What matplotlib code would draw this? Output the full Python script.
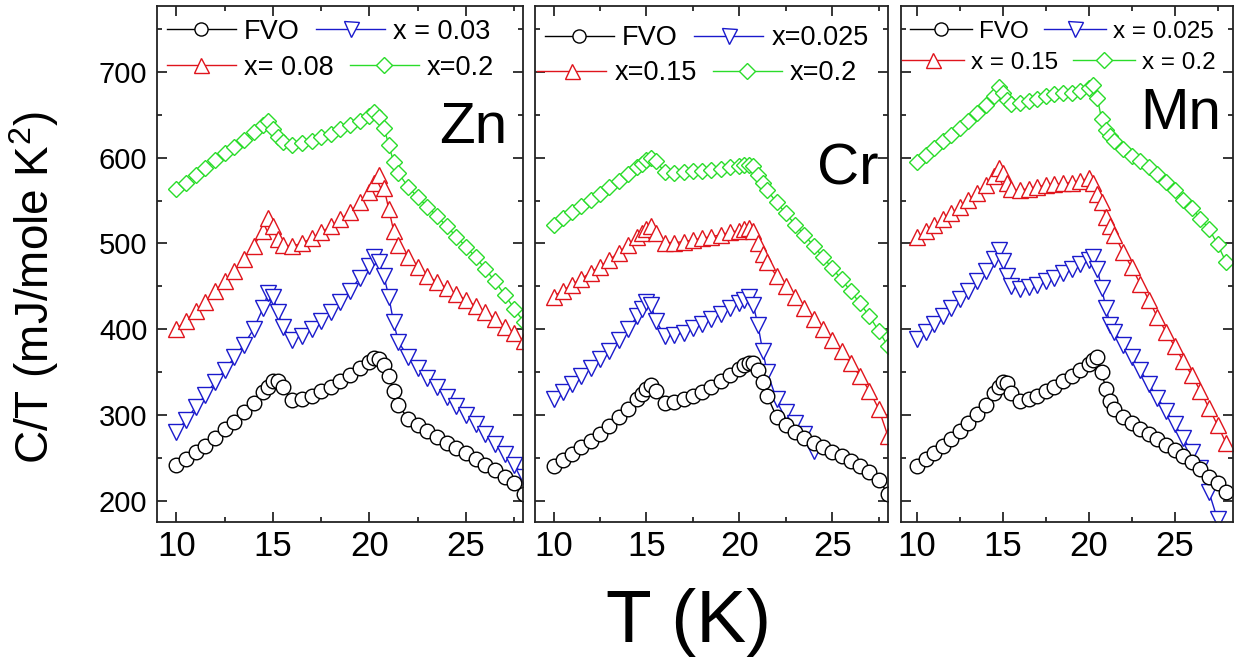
import numpy as np
import matplotlib
matplotlib.use('Agg')
import matplotlib.pyplot as plt
from matplotlib.ticker import MultipleLocator

plt.rcParams['font.family'] = ['Liberation Sans', 'DejaVu Sans']
plt.rcParams['mathtext.fontset'] = 'custom'
plt.rcParams['mathtext.rm'] = 'Liberation Sans'
plt.rcParams['mathtext.it'] = 'Liberation Sans:italic'

# temperature grid (K), denser around the two transitions
T = [10, 10.5, 11, 11.5, 12, 12.5, 13, 13.5, 14, 14.5, 14.75, 15, 15.25, 15.5,
     16, 16.5, 17, 17.5, 18, 18.5, 19, 19.5, 20, 20.25, 20.5, 20.75, 21, 21.25,
     21.5, 22, 22.5, 23, 23.5, 24, 24.5, 25, 25.5, 26, 26.5, 27, 27.5, 28]

# C/T (mJ/mole K^2) -- Zn doped
zn_fvo = [242, 249, 257, 264, 273, 283, 292, 303, 314, 327, 333, 339, 340, 332,
          317, 318, 322, 328, 333, 340, 347, 355, 362, 366, 365, 358, 345, 328,
          312, 295, 288, 281, 274, 267, 261, 255, 249, 242, 236, 228, 220, 208]
zn_x003 = [280, 294, 309, 323, 338, 352, 367, 382, 400, 425, 442, 438, 420, 403,
           387, 392, 400, 410, 420, 432, 445, 460, 474, 484, 478, 462, 438, 408,
           385, 368, 355, 343, 332, 321, 310, 300, 289, 278, 266, 254, 242, 228]
zn_x008 = [400, 410, 421, 432, 444, 456, 468, 482, 497, 515, 530, 520, 505, 498,
           497, 500, 506, 513, 520, 528, 537, 548, 560, 570, 580, 565, 540, 515,
           498, 484, 472, 462, 455, 448, 441, 434, 427, 420, 412, 403, 395, 386]
zn_x02 = [563, 571, 580, 588, 597, 605, 613, 621, 630, 638, 643, 634, 624, 618,
          615, 617, 620, 624, 628, 633, 638, 643, 649, 653, 648, 635, 615, 595,
          582, 566, 554, 543, 532, 520, 508, 496, 484, 470, 456, 440, 424, 408]

# Cr doped
cr_fvo = [240, 247, 254, 262, 270, 278, 287, 297, 307, 318, 324, 330, 335, 328,
          314, 315, 318, 322, 327, 333, 339, 346, 354, 358, 361, 360, 352, 338,
          322, 298, 288, 280, 273, 267, 262, 257, 252, 246, 240, 233, 224, 208]
cr_x0025 = [318, 327, 336, 345, 355, 365, 375, 387, 400, 415, 423, 432, 428, 410,
            392, 393, 396, 401, 406, 412, 418, 425, 431, 434, 437, 428, 405, 375,
            350, 318, 303, 290, 278, 258]
cr_x015 = [438, 445, 452, 459, 466, 473, 481, 489, 498, 507, 512, 517, 520, 512,
           501, 501, 502, 504, 506, 508, 510, 513, 515, 517, 518, 515, 500, 488,
           478, 462, 450, 438, 425, 412, 400, 387, 374, 360, 345, 328, 307, 275]
cr_x02 = [522, 530, 537, 544, 551, 558, 566, 573, 581, 589, 593, 597, 600, 596,
          583, 582, 583, 584, 585, 586, 587, 589, 590, 591, 592, 590, 580, 570,
          562, 548, 535, 522, 510, 497, 484, 471, 458, 444, 430, 415, 398, 380]

# Mn doped
mn_fvo = [240, 248, 256, 264, 272, 281, 291, 301, 312, 325, 332, 338, 337, 325,
          316, 318, 322, 328, 333, 339, 345, 352, 359, 364, 367, 350, 330, 316,
          307, 298, 291, 284, 278, 272, 265, 259, 252, 245, 237, 228, 220, 210]
mn_x0025 = [388, 397, 406, 415, 425, 435, 445, 456, 468, 482, 492, 480, 462, 450,
            447, 449, 452, 456, 460, 465, 470, 476, 481, 484, 470, 448, 425, 405,
            397, 382, 368, 352, 336, 320, 305, 289, 273, 257, 238, 210, 178]
mn_x015 = [507, 514, 521, 528, 535, 543, 551, 559, 568, 579, 588, 582, 570, 563,
           562, 564, 566, 568, 569, 570, 571, 573, 576, 570, 558, 548, 531, 520,
           510, 490, 472, 453, 434, 414, 397, 380, 363, 346, 328, 308, 288, 267]
mn_x02 = [595, 603, 611, 619, 627, 635, 643, 652, 661, 672, 682, 676, 667, 663,
          664, 666, 669, 672, 674, 675, 676, 678, 681, 685, 670, 645, 632, 625,
          619, 610, 602, 596, 589, 581, 572, 562, 551, 541, 529, 517, 499, 478]

panels = [
    ('Zn', [zn_fvo, zn_x003, zn_x008, zn_x02],
     ['FVO', 'x = 0.03', 'x= 0.08', 'x=0.2']),
    ('Cr', [cr_fvo, cr_x0025, cr_x015, cr_x02],
     ['FVO', 'x=0.025', 'x=0.15', 'x=0.2']),
    ('Mn', [mn_fvo, mn_x0025, mn_x015, mn_x02],
     ['FVO', 'x = 0.025', 'x = 0.15', 'x = 0.2']),
]

colors = ['#000000', '#1a1acc', '#e0141c', '#2adc2a']
markers = ['o', 'v', '^', 'D']
msizes = [10.5, 12, 12, 8.5]

# layout in pixels of the reference (left, right) per panel
ax_rects = [(157, 523), (535, 888), (901, 1233)]
xlims = [(9.0, 27.95), (9.0, 28.0), (9.07, 28.4)]
leg_pos = [((0.027, 0.950), (0.027, 0.880)),
           ((0.028, 0.938), (0.006, 0.870)),
           ((0.027, 0.950), (0.003, 0.890))]
leg_size = [19.5, 19.5, 17.5]
tag_pos = [(0.863, 0.764), (0.887, 0.684), (0.843, 0.791)]

W, H = 1238, 662
fig = plt.figure(figsize=(W / 100, H / 100), dpi=100)
top_px, bot_px = 6, 522

for i, (tag, series, labels) in enumerate(panels):
    l, r = ax_rects[i]
    ax = fig.add_axes([l / W, 1 - bot_px / H, (r - l) / W, (bot_px - top_px) / H])
    handles = {}
    # draw green first, black last
    for j in [3, 2, 1, 0]:
        y = series[j]
        h, = ax.plot(T[:len(y)], y, color=colors[j], marker=markers[j],
                     ms=msizes[j], mfc='white', mec=colors[j], mew=1.0, lw=1.0)
        handles[j] = h

    ax.set_xlim(*xlims[i])
    ax.set_ylim(175, 777)
    ax.xaxis.set_major_locator(MultipleLocator(5))
    ax.xaxis.set_minor_locator(MultipleLocator(2.5))
    ax.yaxis.set_major_locator(MultipleLocator(100))
    ax.yaxis.set_minor_locator(MultipleLocator(50))
    ax.tick_params(which='both', direction='in', top=True, right=True, width=1.1)
    ax.tick_params(which='major', length=7)
    ax.tick_params(which='minor', length=3.5)
    ax.tick_params(axis='x', labelsize=25, pad=6)
    ax.tick_params(axis='y', labelsize=21, pad=7)
    if i > 0:
        ax.tick_params(axis='y', labelleft=False)
    for s in ax.spines.values():
        s.set_linewidth(1.3)
        s.set_color('#222222')

    # legend in two rows, each row laid out on its own (Origin style)
    kw = dict(loc='center left', frameon=False, ncol=2, borderpad=0,
              borderaxespad=0, handlelength=2.55, handletextpad=0.3,
              columnspacing=0.6, fontsize=leg_size[i], markerscale=0.9)
    row1 = ax.legend([handles[0], handles[1]], [labels[0], labels[1]],
                     bbox_to_anchor=leg_pos[i][0], **kw)
    ax.add_artist(row1)
    ax.legend([handles[2], handles[3]], [labels[2], labels[3]],
              bbox_to_anchor=leg_pos[i][1], **kw)

    ax.text(tag_pos[i][0], tag_pos[i][1], tag, transform=ax.transAxes,
            fontsize=42, ha='center', va='center')

fig.text(0.0275, 0.565, r'C/T (mJ/mole K$^{\mathregular{2}}$)', rotation=90,
         fontsize=33, ha='center', va='center')
fig.text(0.556, 0.059, 'T (K)', fontsize=54, ha='center', va='center')

fig.savefig('out.png', dpi=100, facecolor='white')
